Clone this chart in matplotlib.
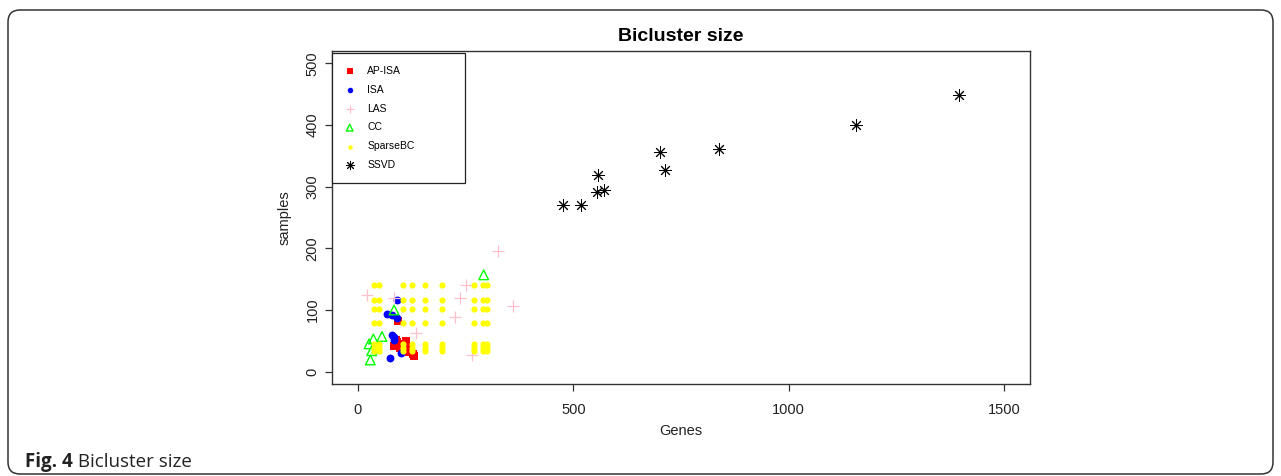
import matplotlib
matplotlib.use("Agg")
import matplotlib.pyplot as plt
from matplotlib.patches import FancyBboxPatch

# ---------------- data ----------------
ap_isa_genes = [94, 84, 90, 97, 112, 120, 128, 106, 118, 101, 130, 88]
ap_isa_samples = [82, 42, 48, 38, 49, 40, 28, 33, 32, 45, 26, 52]

isa_genes = [67, 79, 90, 91, 79, 83, 75, 101, 85]
isa_samples = [93, 92, 87, 116, 60, 52, 22, 30, 56]

las_genes = [326, 359, 251, 238, 225, 265, 135, 22, 84]
las_samples = [196, 107, 141, 119, 89, 27, 63, 125, 119]

cc_genes = [292, 84, 36, 56, 32, 29, 44, 26]
cc_samples = [157, 100, 53, 57, 34, 19, 38, 45]

sparsebc_genes = [38, 48, 104, 125, 155, 195, 270, 290, 300,
                  38, 48, 104, 125, 155, 195, 270, 290, 300,
                  38, 48, 104, 125, 155, 195, 270, 290, 300,
                  38, 48, 104, 125, 155, 195, 270, 290, 300,
                  38, 48, 104, 125, 155, 195, 270, 290, 300,
                  38, 48, 104, 125, 155, 195, 270, 290, 300,
                  38, 48, 104, 125, 155, 195, 270, 290, 300]
sparsebc_samples = [140, 140, 140, 140, 140, 140, 140, 140, 140,
                    117, 117, 117, 117, 117, 117, 117, 117, 117,
                    101, 101, 101, 101, 101, 101, 101, 101, 101,
                    79, 79, 79, 79, 79, 79, 79, 79, 79,
                    45, 45, 45, 45, 45, 45, 45, 45, 45,
                    39, 39, 39, 39, 39, 39, 39, 39, 39,
                    33, 33, 33, 33, 33, 33, 33, 33, 33]

ssvd_genes = [476, 517, 558, 555, 571, 701, 714, 839, 1157, 1395]
ssvd_samples = [270, 271, 319, 292, 295, 357, 327, 361, 400, 449]

x_ticks = [0, 500, 1000, 1500]
y_ticks = [0, 100, 200, 300, 400, 500]

title = "Bicluster size"
x_label = "Genes"
y_label = "samples"
caption_bold = "Fig. 4"
caption_text = " Bicluster size"

# ---------------- figure ----------------
plt.rcParams['font.family'] = ['Liberation Sans', 'DejaVu Sans']
W, H = 1281, 476
fig = plt.figure(figsize=(W / 100, H / 100), dpi=100)

ax = fig.add_axes([332 / W, 1 - 384 / H, (1030 - 332) / W, (384 - 51) / H])

ax.scatter(ap_isa_genes, ap_isa_samples, marker='s', s=32, c='#ff0000',
           linewidths=0, label='AP-ISA', zorder=3)
ax.scatter(isa_genes, isa_samples, marker='o', s=32, c='#0000ff',
           linewidths=0, label='ISA', zorder=3)
ax.scatter(las_genes, las_samples, marker='+', s=80, c='#ffc0cb',
           linewidths=0.9, label='LAS', zorder=3)
ax.scatter(cc_genes, cc_samples, marker='^', s=48, facecolors='none',
           edgecolors='#00ff00', linewidths=1.0, label='CC', zorder=3)
ax.scatter(sparsebc_genes, sparsebc_samples, marker='o', s=20, c='#ffff00',
           linewidths=0, label='SparseBC', zorder=3)
ax.scatter(ssvd_genes, ssvd_samples, marker=(8, 2, 0), s=72, c='#000000',
           linewidths=0.7, label='SSVD', zorder=3)

ax.set_xlim(-60, 1560)
ax.set_ylim(-20, 520)
ax.set_xticks(x_ticks)
ax.set_yticks(y_ticks)
ax.tick_params(axis='both', direction='out', length=5, width=0.9,
               labelsize=10.5, color='#333333', labelcolor='#222222')
ax.tick_params(axis='x', pad=9)
ax.tick_params(axis='y', pad=4)
for lab in ax.get_yticklabels():
    lab.set_rotation(90)
    lab.set_va('center')
for sp in ax.spines.values():
    sp.set_linewidth(1.0)
    sp.set_color('#333333')

ax.set_xlabel(x_label, fontsize=10.5, labelpad=5, color='#222222')
ax.set_ylabel(y_label, fontsize=10.5, labelpad=10, color='#222222')
ax.set_title(title, fontsize=14, fontweight='bold', pad=7)

leg = ax.legend(loc='upper left', bbox_to_anchor=(0, 0, 133 / 698, 0.993),
                mode='expand', borderaxespad=0, fontsize=7.5,
                labelspacing=0.85, borderpad=1.2, handlelength=1.0,
                handletextpad=1.17, markerscale=0.7, fancybox=False,
                framealpha=1, edgecolor='#222222', scatterpoints=1)
leg.get_frame().set_linewidth(0.9)

# outer rounded border
border = FancyBboxPatch((0.08, 0.02), 12.65, 4.64,
                        boxstyle="round,pad=0,rounding_size=0.12",
                        transform=fig.dpi_scale_trans, fill=False,
                        edgecolor='#333333', linewidth=1.1)
fig.patches.append(border)

# caption
cap_font = ['Open Sans', 'DejaVu Sans']
t1 = fig.text(25 / W, 1 - 467 / H, caption_bold, fontsize=13.5,
              fontweight='bold', family=cap_font,
              va='baseline', ha='left', color='#222222')
fig.canvas.draw()
bb = t1.get_window_extent(renderer=fig.canvas.get_renderer())
fig.text(bb.x1 / W, 1 - 467 / H, caption_text, fontsize=13.5,
         family=cap_font, va='baseline', ha='left', color='#222222')

fig.savefig('out.png', dpi=100)
